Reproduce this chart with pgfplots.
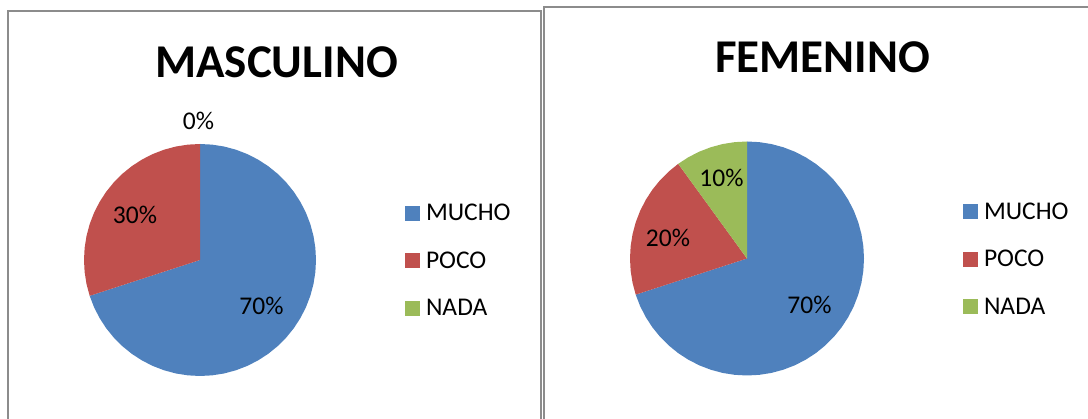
\documentclass[border=0pt]{standalone}
\usepackage{pgfplots}
\pgfplotsset{compat=1.18}
\usepackage{fontspec}
\setmainfont{Carlito}
\definecolor{cblue}{RGB}{79,129,189}
\definecolor{cred}{RGB}{192,80,77}
\definecolor{cgreen}{RGB}{155,187,89}
\definecolor{cframe}{RGB}{140,140,140}
\newcommand{\lblfont}{\fontsize{25.5}{30}\selectfont}
\pgfplotsset{
  piestyle/.style={
    x=1pt, y=1pt, xmin=-130, xmax=130, ymin=-130, ymax=130,
    hide axis, clip=false, anchor=center, data cs=polar,
    legend image code/.code={\fill[##1] (0pt,-8.5pt) rectangle (15pt,6.5pt);},
    legend cell align=left,
    legend style={draw=none, fill=none, inner sep=0pt, outer sep=0pt,
      row sep=30.5pt, column sep=6pt,
      nodes={inner sep=0pt, text height=17pt, text depth=0pt}},
  }
}
\begin{document}
\begin{tikzpicture}[x=1pt,y=1pt]
\path[use as bounding box] (0,0) rectangle (1088,419);
\clip (0,0) rectangle (1088,419);
\draw[cframe, line width=2pt] (8,-10) -- (8,408) -- (541,408) -- (541,-10);
\draw[cframe, line width=2pt] (544,-10) -- (544,412) -- (1100,412);

% ---------- MASCULINO ----------
\begin{axis}[piestyle, at={(200,159)},
  legend style={at={(1.2885,0.5)}, anchor=west}]
\addplot[fill=cblue, draw=none] coordinates {(0,0) (90,116) (84,116) (78,116) (72,116) (66,116) (60,116) (54,116) (48,116) (42,116) (36,116) (30,116) (24,116) (18,116) (12,116) (6,116) (0,116) (-6,116) (-12,116) (-18,116) (-24,116) (-30,116) (-36,116) (-42,116) (-48,116) (-54,116) (-60,116) (-66,116) (-72,116) (-78,116) (-84,116) (-90,116) (-96,116) (-102,116) (-108,116) (-114,116) (-120,116) (-126,116) (-132,116) (-138,116) (-144,116) (-150,116) (-156,116) (-162,116) (0,0)};
\addlegendentry{\lblfont MUCHO}
\addplot[fill=cred, draw=none] coordinates {(0,0) (-162,116) (-168,116) (-174,116) (-180,116) (-186,116) (-192,116) (-198,116) (-204,116) (-210,116) (-216,116) (-222,116) (-228,116) (-234,116) (-240,116) (-246,116) (-252,116) (-258,116) (-264,116) (-270,116) (0,0)};
\addlegendentry{\lblfont POCO}
\addlegendimage{fill=cgreen, draw=none}
\addlegendentry{\lblfont NADA}
\end{axis}

% ---------- FEMENINO ----------
\begin{axis}[piestyle, at={(747,160.5)},
  legend style={at={(1.3308,0.5)}, anchor=west}]
\addplot[fill=cblue, draw=none] coordinates {(0,0) (90,117) (84,117) (78,117) (72,117) (66,117) (60,117) (54,117) (48,117) (42,117) (36,117) (30,117) (24,117) (18,117) (12,117) (6,117) (0,117) (-6,117) (-12,117) (-18,117) (-24,117) (-30,117) (-36,117) (-42,117) (-48,117) (-54,117) (-60,117) (-66,117) (-72,117) (-78,117) (-84,117) (-90,117) (-96,117) (-102,117) (-108,117) (-114,117) (-120,117) (-126,117) (-132,117) (-138,117) (-144,117) (-150,117) (-156,117) (-162,117) (0,0)};
\addlegendentry{\lblfont MUCHO}
\addplot[fill=cred, draw=none] coordinates {(0,0) (-162,117) (-168,117) (-174,117) (-180,117) (-186,117) (-192,117) (-198,117) (-204,117) (-210,117) (-216,117) (-222,117) (-228,117) (-234,117) (0,0)};
\addlegendentry{\lblfont POCO}
\addplot[fill=cgreen, draw=none] coordinates {(0,0) (-234,117) (-240,117) (-246,117) (-252,117) (-258,117) (-264,117) (-270,117) (0,0)};
\addlegendentry{\lblfont NADA}
\end{axis}

% titles
\node[anchor=base, inner sep=0pt, font=\fontsize{47}{56}\selectfont\bfseries] at (276.5,341) {MASCULINO};
\node[anchor=base, inner sep=0pt, font=\fontsize{47}{56}\selectfont\bfseries] at (822.5,346) {FEMENINO};
% data labels
\node[anchor=base, inner sep=0pt, font=\lblfont] at (198.5,289) {0\%};
\node[anchor=base, inner sep=0pt, font=\lblfont] at (135,195) {30\%};
\node[anchor=base, inner sep=0pt, font=\lblfont] at (261.5,104) {70\%};
\node[anchor=base, inner sep=0pt, font=\lblfont] at (721.5,232) {10\%};
\node[anchor=base, inner sep=0pt, font=\lblfont] at (668,172) {20\%};
\node[anchor=base, inner sep=0pt, font=\lblfont] at (809.5,105) {70\%};
\end{tikzpicture}
\end{document}
